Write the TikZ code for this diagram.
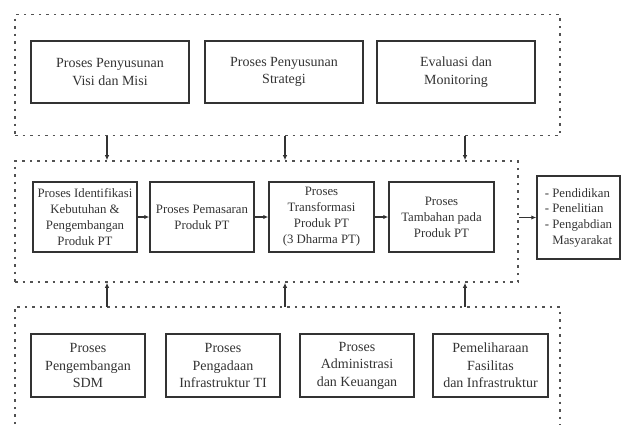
\documentclass[tikz,border=0pt]{standalone}
\usepackage{fontspec}
\setmainfont{Liberation Serif}
\usepackage{tikz}
\usetikzlibrary{arrows.meta}
\tikzset{>={Latex[length=5pt,width=4.5pt]}}
\definecolor{ink}{HTML}{333333}

\begin{document}
\begin{tikzpicture}[x=1pt,y=-1pt,line join=miter,
	proc/.style={draw=ink,line width=1.5pt,text=ink,align=center,inner sep=0pt},
	grp/.style={draw=ink!85,line width=1.7pt,dash pattern=on 2.5pt off 5pt},
	conn/.style={->,draw=ink,line width=1.3pt}]
	\useasboundingbox (0,0) rectangle (621,426);
	% kelompok kotak bertitik
	\node[grp,minimum width=545pt,minimum height=121pt] (strat) at (287.5,75) {};
	\node[grp,minimum width=503pt,minimum height=121pt] (core) at (266.5,221.5) {};
	\node[minimum width=545pt,minimum height=117pt,inner sep=0pt] (supp) at (287.5,365.5) {};
	\draw[grp] (supp.south west) |- (supp.north east) -- (supp.south east);
	% baris atas
	\node[proc,minimum width=158pt,minimum height=62pt,font=\fontsize{14}{17.5}\selectfont] (visi) at (110,72) {Proses Penyusunan\\Visi dan Misi};
	\node[proc,minimum width=158pt,minimum height=62pt,font=\fontsize{14}{17.5}\selectfont] (strg) at (284,72) {Proses Penyusunan\\Strategi};
	\node[proc,minimum width=158pt,minimum height=62pt,font=\fontsize{14}{17.5}\selectfont] (eval) at (456,72) {Evaluasi dan\\Monitoring};
	% baris tengah
	\node[proc,minimum width=104pt,minimum height=70pt,font=\fontsize{12.8}{16}\selectfont] (iden) at (85,217) {Proses Identifikasi\\Kebutuhan \&\\Pengembangan\\Produk PT};
	\node[proc,minimum width=104pt,minimum height=70pt,font=\fontsize{12.8}{16}\selectfont] (pasr) at (202,217) {Proses Pemasaran\\Produk PT};
	\node[proc,minimum width=105pt,minimum height=70pt,font=\fontsize{12.8}{16}\selectfont] (trns) at (321.5,217) {Proses\\Transformasi\\Produk PT\\(3 Dharma PT)};
	\node[proc,minimum width=105pt,minimum height=70pt,font=\fontsize{12.8}{16}\selectfont] (tamb) at (441.5,217) {Proses\\Tambahan pada\\Produk PT};
	\node[proc,align=left,minimum width=83pt,minimum height=83pt,font=\fontsize{12.8}{15.7}\selectfont] (hasil) at (578.5,217.5) {- Pendidikan\\- Penelitian\\- Pengabdian\\\phantom{- }Masyarakat};
	% baris bawah
	\node[proc,minimum width=114pt,minimum height=63pt,font=\fontsize{14}{17.5}\selectfont] (sdm) at (88,365.5) {Proses\\Pengembangan\\SDM};
	\node[proc,minimum width=114pt,minimum height=63pt,font=\fontsize{14}{17.5}\selectfont] (infr) at (223,365.5) {Proses\\Pengadaan\\Infrastruktur TI};
	\node[proc,minimum width=114pt,minimum height=63pt,font=\fontsize{14}{17.5}\selectfont] (admn) at (357,365.5) {Proses\\Administrasi\\dan Keuangan};
	\node[proc,minimum width=115pt,minimum height=63pt,font=\fontsize{14}{17.5}\selectfont] (fasl) at (490.5,365.5) {Pemeliharaan\\Fasilitas\\dan Infrastruktur};
	% panah
	\coordinate (a1) at (107,0);
	\coordinate (a2) at (285,0);
	\coordinate (a3) at (465,0);
	\foreach \c in {a1,a2,a3}{
		\draw[conn] (strat.south -| \c) -- (core.north -| \c);
		\draw[conn] (supp.north -| \c) -- (core.south -| \c);
	}
	\draw[conn] (iden) -- (pasr);
	\draw[conn] (pasr) -- (trns);
	\draw[conn] (trns) -- (tamb);
	\draw[conn] (core.east |- hasil) -- (hasil);
\end{tikzpicture}
\end{document}
